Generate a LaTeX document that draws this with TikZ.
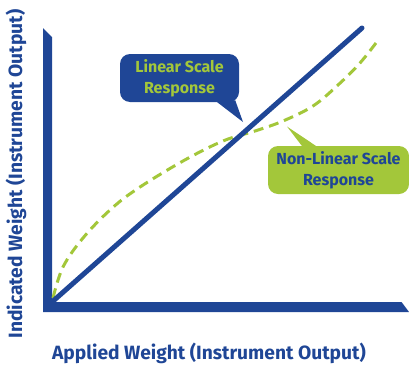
\documentclass[tikz,border=0pt]{standalone}
\usepackage{fontspec}
\setmainfont{Fira Sans}[BoldFont={Fira Sans Bold}]
\definecolor{axisblue}{HTML}{1F4696}
\definecolor{limegreen}{HTML}{A3C73A}
\begin{document}
\begin{tikzpicture}[x=1pt,y=-1pt,
  callout/.style={inner sep=0pt, minimum width=#1, minimum height=48pt,
    rounded corners=10pt, align=center, font=\bfseries\fontsize{16}{21}\selectfont},
  callout/.default=119pt,
  axislabel/.style={font=\bfseries\fontsize{19.2}{22}\selectfont, text=axisblue, inner sep=0pt},
  curve/.style={limegreen, line width=3pt, dash pattern=on 10pt off 6pt}]
\useasboundingbox (0,0) rectangle (409,367);

% L-shaped axes with bevelled ends
\fill[axisblue] (43,28) -- (52,37) -- (52,302) -- (401.5,302) -- (409,312) -- (43,312) -- cycle;
\coordinate (origin) at (52,302);
\coordinate (linend) at (362,28);

% non-linear response (dashed)
\draw[curve] plot[smooth, tension=0.6] coordinates {
  (53,298) (63,267) (83,238) (110,210) (137,189) (183,161) (223,141)
  (255,131) (283,121) (313,106) (338,85) (360,63) (379,39)};

% linear response
\draw[axisblue, line width=5pt, line cap=round] (origin) -- (linend);

% callout: linear
\node[callout, fill=axisblue, text=limegreen] (lin) at (179.5,78) {Linear Scale\\Response};
\coordinate (lintip) at (243,122);
\fill[axisblue] ([xshift=-22pt]lin.south east) -- (lintip) -- ([xshift=-4pt,yshift=2pt]lin.south east) -- cycle;

% callout: non-linear
\node[callout=141pt, fill=limegreen, text=axisblue] (nonlin) at (338.5,170) {Non-Linear Scale\\Response};
\coordinate (nonlintip) at (287,126.5);
\fill[limegreen] ([xshift=34pt]nonlin.north west) -- (nonlintip) -- ([xshift=48pt]nonlin.north west) -- cycle;

% axis labels
\node[axislabel] (xlab) at (209,353) {Applied Weight (Instrument Output)};
\node[axislabel, rotate=90] (ylab) at (16,174) {Indicated Weight (Instrument Output)};
\end{tikzpicture}
\end{document}
